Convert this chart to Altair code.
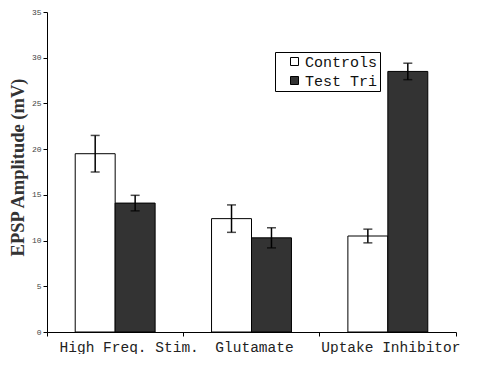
import altair as alt
import pandas as pd

categories = ["High Freq. Stim.", "Glutamate", "Uptake Inhibitor"]
series = ["Controls", "Test Trials"]
controls = [19.5, 12.4, 10.5]
controls_err = [2.0, 1.5, 0.75]
test = [14.1, 10.3, 28.5]
test_err = [0.85, 1.1, 0.9]
y_ticks = [0, 5, 10, 15, 20, 25, 30, 35]

rows = []
for i, c in enumerate(categories):
    rows.append({"category": c, "series": series[0], "value": controls[i],
                 "lo": controls[i] - controls_err[i], "hi": controls[i] + controls_err[i]})
    rows.append({"category": c, "series": series[1], "value": test[i],
                 "lo": test[i] - test_err[i], "hi": test[i] + test_err[i]})
df = pd.DataFrame(rows)

x_enc = alt.X("category:N", sort=categories,
              scale=alt.Scale(paddingInner=0, paddingOuter=0),
              axis=alt.Axis(title=None, labelAngle=0, bandPosition=1, tickExtra=True,
                            labelOffset={"condition": {"test": "datum.value == 'High Freq. Stim.'",
                                                       "value": 14}, "value": 3},
                            labelFont="Liberation Mono", labelFontSize=14.5,
                            labelColor="#222222", labelPadding=4, tickSize=4,
                            tickColor="black", domainColor="black", labelLimit=300))
xo_enc = alt.XOffset("series:N", sort=series,
                     scale=alt.Scale(paddingOuter=0.706, paddingInner=0))
y_scale = alt.Scale(domain=[0, 35], nice=False)

base = alt.Chart(df)

bars = base.mark_bar(stroke="black", strokeWidth=1).encode(
    x=x_enc,
    xOffset=xo_enc,
    y=alt.Y("value:Q", scale=y_scale,
            axis=alt.Axis(values=y_ticks, grid=False, title="EPSP Amplitude (mV)",
                          labelFont="Liberation Mono", labelFontSize=8, labelColor="#444444",
                          tickSize=4, tickColor="black", domainColor="black",
                          titleX=-30, titleY=155, titleAngle=270, titleAlign="center",
                          titleBaseline="middle", titleFont="Liberation Serif",
                          titleFontWeight="bold", titleFontSize=18.5, titleColor="#333333")),
    fill=alt.Fill("series:N", sort=series,
                  scale=alt.Scale(domain=series, range=["white", "#333333"]),
                  legend=alt.Legend(title=None, orient="none", legendX=228, legendY=40,
                                    strokeColor="black", fillColor="white", padding=2,
                                    symbolType="square", symbolSize=64,
                                    symbolStrokeColor="black", symbolStrokeWidth=1,
                                    labelFont="Liberation Mono", labelFontSize=15,
                                    labelColor="#111111", rowPadding=3, symbolOffset=10,
                                    labelOffset=3,
                                    labelExpr="datum.label == 'Test Trials' ? 'Test Tri' : datum.label")),
)

rules = base.mark_rule(color="black", strokeWidth=1.5).encode(
    x=alt.X("category:N", sort=categories),
    xOffset=alt.XOffset("series:N", sort=series),
    y=alt.Y("lo:Q", scale=y_scale),
    y2="hi:Q",
)
cap_lo = base.mark_tick(color="black", thickness=1.5, size=9, orient="horizontal").encode(
    x=alt.X("category:N", sort=categories),
    xOffset=alt.XOffset("series:N", sort=series),
    y=alt.Y("lo:Q", scale=y_scale),
)
cap_hi = base.mark_tick(color="black", thickness=1.5, size=9, orient="horizontal").encode(
    x=alt.X("category:N", sort=categories),
    xOffset=alt.XOffset("series:N", sort=series),
    y=alt.Y("hi:Q", scale=y_scale),
)

chart = alt.layer(bars, rules, cap_lo, cap_hi).properties(
    width=409, height=320,
    autosize=alt.AutoSizeParams(type="none"),
    padding={"left": 39, "top": 4, "right": 18, "bottom": 22},
).configure_view(stroke=None)

chart.save("out.html", embed_options={"renderer": "svg", "actions": False})
